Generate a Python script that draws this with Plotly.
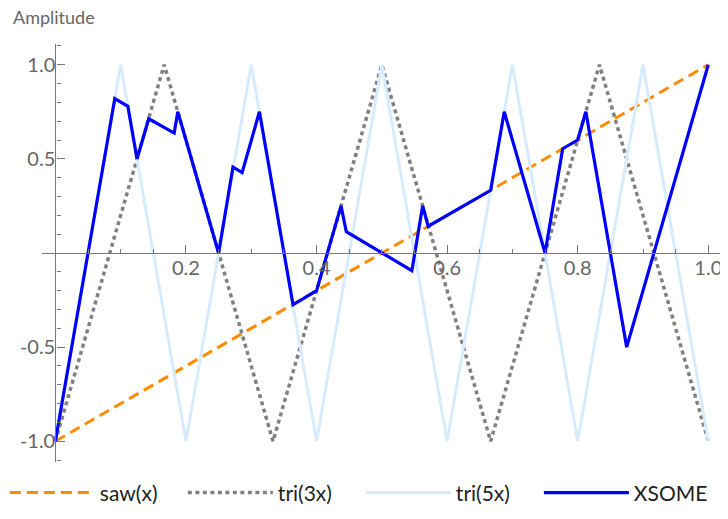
import plotly.graph_objects as go

# --- data ---
saw_x = [0.0, 1.0]
saw_y = [-1.0, 1.0]

tri3_x = [0.0, 1/6, 1/3, 0.5, 2/3, 5/6, 1.0]
tri3_y = [-1.0, 1.0, -1.0, 1.0, -1.0, 1.0, -1.0]

tri5_x = [0.0, 0.1, 0.2, 0.3, 0.4, 0.5, 0.6, 0.7, 0.8, 0.9, 1.0]
tri5_y = [-1.0, 1.0, -1.0, 1.0, -1.0, 1.0, -1.0, 1.0, -1.0, 1.0, -1.0]

xsome_x = [0.0, 0.091, 0.111, 0.125, 0.143, 0.182, 0.1875, 0.25, 0.272, 0.286,
           0.3125, 0.364, 0.4, 0.4375, 0.4456, 0.546, 0.5625, 0.571, 0.6667,
           0.6875, 0.75, 0.777, 0.8, 0.8125, 0.875, 1.0]
xsome_y = [-1.0, 0.82, 0.779, 0.5, 0.713, 0.637, 0.75, 0.0, 0.456, 0.427,
           0.75, -0.275, -0.2, 0.25, 0.113, -0.094, 0.25, 0.142, 0.333,
           0.75, 0.0, 0.554, 0.6, 0.75, -0.5, 1.0]

x_ticks = [0.2, 0.4, 0.6, 0.8, 1.0]
x_ticklabels = ["0.2", "0.4", "0.6", "0.8", "1.0"]
y_ticks = [-1.0, -0.5, 0.5, 1.0]
y_ticklabels = ["-1.0", "-0.5", "0.5", "1.0"]

FONT = "Lato"
X_RANGE = [-0.0205, 1.021]
Y_RANGE = [-1.11, 1.11]

fig = go.Figure()
fig.add_trace(go.Scatter(x=saw_x, y=saw_y, mode="lines", name="saw(x)",
                         line=dict(color="rgb(255,140,0)", width=3, dash="11px,6px")))
fig.add_trace(go.Scatter(x=tri3_x, y=tri3_y, mode="lines", name="tri(3x)",
                         line=dict(color="rgb(128,128,128)", width=3.5, dash="4px,3.5px")))
fig.add_trace(go.Scatter(x=tri5_x, y=tri5_y, mode="lines", name="tri(5x)",
                         line=dict(color="rgb(215,235,255)", width=3)))
fig.add_trace(go.Scatter(x=xsome_x, y=xsome_y, mode="lines", name="XSOME",
                         line=dict(color="rgb(0,0,255)", width=3.2)))

y0_frac = (0 - X_RANGE[0]) / (X_RANGE[1] - X_RANGE[0])

fig.update_layout(
    width=728, height=519,
    margin=dict(l=34, r=14, t=36, b=65, autoexpand=False),
    paper_bgcolor="white", plot_bgcolor="white",
    font=dict(family=FONT, color="#555555"),
    showlegend=True,
    legend=dict(orientation="h", x=-0.0546, xanchor="left", y=-0.074, yanchor="middle",
                font=dict(family=FONT, size=21, color="#222222"),
                entrywidth=78, entrywidthmode="pixels", itemwidth=85,
                bgcolor="rgba(0,0,0,0)"),
    xaxis=dict(range=X_RANGE, showgrid=False, zeroline=False,
               showline=True, linecolor="#777777", linewidth=1.3,
               anchor="free", position=0.5, side="bottom",
               ticks="inside", ticklen=8, tickwidth=1, tickcolor="#777777",
               tickvals=x_ticks, ticktext=x_ticklabels, ticklabelstandoff=-3,
               tickfont=dict(family=FONT, size=20, color="#666666"),
               minor=dict(tickmode="linear", tick0=0, dtick=0.05, ticks="inside",
                          ticklen=4, tickcolor="#777777", tickwidth=1),
               automargin=False),
    yaxis=dict(range=Y_RANGE, showgrid=False, zeroline=False,
               showline=True, linecolor="#777777", linewidth=1.3,
               anchor="free", position=y0_frac, side="left",
               ticks="inside", ticklen=8, tickwidth=1, tickcolor="#777777",
               tickvals=y_ticks, ticktext=y_ticklabels, ticklabelstandoff=-4,
               tickfont=dict(family=FONT, size=20, color="#666666"),
               minor=dict(tickmode="linear", tick0=0, dtick=0.1, ticks="inside",
                          ticklen=4, tickcolor="#777777", tickwidth=1),
               automargin=False),
    annotations=[dict(text="Amplitude", xref="paper", yref="paper",
                      x=-0.046, y=1.064, xanchor="left", yanchor="middle",
                      showarrow=False, font=dict(family=FONT, size=18, color="#666666"))],
)

fig.write_html("out.html")
